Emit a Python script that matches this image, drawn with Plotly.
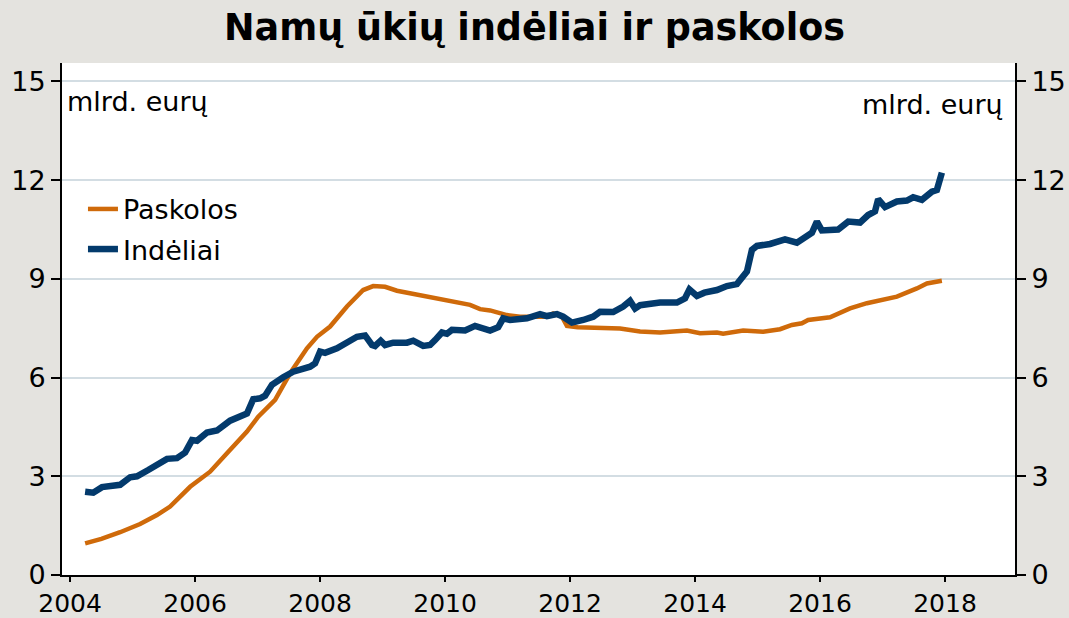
import plotly.graph_objects as go

# Data (decimal years, billions EUR)
paskolos_x = [2004.24, 2004.5, 2004.8, 2005.12, 2005.39, 2005.6, 2005.92, 2006.24, 2006.51, 2006.83,
              2007.01, 2007.17, 2007.28, 2007.52, 2007.79, 2007.95, 2008.16, 2008.43, 2008.69, 2008.85,
              2009.04, 2009.23, 2009.49, 2009.76, 2010.03, 2010.4, 2010.56, 2010.72, 2010.99, 2011.2,
              2011.63, 2011.73, 2011.87, 2011.95, 2012.12, 2012.48, 2012.8, 2013.12, 2013.44, 2013.87,
              2014.08, 2014.35, 2014.45, 2014.77, 2015.09, 2015.36, 2015.55, 2015.71, 2015.81, 2016.16,
              2016.48, 2016.75, 2017.07, 2017.23, 2017.55, 2017.71, 2017.95]
paskolos_y = [0.96, 1.10, 1.30, 1.55, 1.82, 2.08, 2.68, 3.14, 3.70, 4.36,
              4.81, 5.12, 5.32, 6.13, 6.89, 7.24, 7.55, 8.16, 8.66, 8.78,
              8.76, 8.64, 8.54, 8.45, 8.36, 8.21, 8.08, 8.04, 7.90, 7.85,
              7.85, 7.95, 7.85, 7.57, 7.53, 7.50, 7.49, 7.40, 7.37, 7.43,
              7.35, 7.37, 7.33, 7.43, 7.39, 7.47, 7.60, 7.65, 7.75, 7.83,
              8.10, 8.26, 8.41, 8.46, 8.71, 8.86, 8.94]

indeliai_x = [2004.24, 2004.37, 2004.51, 2004.8, 2004.96, 2005.07, 2005.25, 2005.44, 2005.55, 2005.71,
              2005.84, 2005.95, 2006.03, 2006.19, 2006.35, 2006.56, 2006.83, 2006.93, 2007.04, 2007.12,
              2007.23, 2007.41, 2007.57, 2007.84, 2007.92, 2008.0, 2008.08, 2008.27, 2008.43, 2008.59,
              2008.72, 2008.83, 2008.88, 2008.97, 2009.04, 2009.17, 2009.39, 2009.49, 2009.65, 2009.76,
              2009.84, 2009.95, 2010.03, 2010.11, 2010.32, 2010.48, 2010.72, 2010.85, 2010.93, 2011.04,
              2011.31, 2011.52, 2011.63, 2011.79, 2011.89, 2012.03, 2012.21, 2012.37, 2012.48, 2012.69,
              2012.85, 2012.96, 2013.04, 2013.12, 2013.44, 2013.71, 2013.84, 2013.91, 2014.03, 2014.15,
              2014.35, 2014.51, 2014.67, 2014.83, 2014.91, 2014.99, 2015.2, 2015.36, 2015.44, 2015.63,
              2015.79, 2015.87, 2015.95, 2016.03, 2016.29, 2016.45, 2016.64, 2016.77, 2016.88, 2016.93,
              2017.04, 2017.23, 2017.39, 2017.49, 2017.63, 2017.79, 2017.87, 2017.95]
indeliai_y = [2.53, 2.50, 2.67, 2.74, 2.97, 3.00, 3.19, 3.39, 3.53, 3.55,
              3.72, 4.10, 4.08, 4.33, 4.39, 4.69, 4.91, 5.34, 5.37, 5.45,
              5.78, 6.01, 6.18, 6.33, 6.43, 6.79, 6.75, 6.89, 7.09, 7.24,
              7.28, 6.99, 6.96, 7.12, 6.99, 7.06, 7.06, 7.12, 6.96, 6.99,
              7.14, 7.37, 7.33, 7.45, 7.43, 7.57, 7.43, 7.53, 7.80, 7.75,
              7.80, 7.93, 7.87, 7.93, 7.85, 7.67, 7.75, 7.85, 8.00, 7.99,
              8.16, 8.33, 8.10, 8.20, 8.28, 8.28, 8.41, 8.68, 8.48, 8.58,
              8.66, 8.78, 8.84, 9.22, 9.88, 10.00, 10.06, 10.13, 10.20, 10.10,
              10.33, 10.40, 10.74, 10.47, 10.50, 10.74, 10.71, 10.94, 11.05, 11.42,
              11.18, 11.35, 11.38, 11.48, 11.40, 11.65, 11.70, 12.23]

x_ticks = [2004, 2006, 2008, 2010, 2012, 2014, 2016, 2018]
y_ticks = [0, 3, 6, 9, 12, 15]

ORANGE = "#cf6a0a"
BLUE = "#033a6c"
FONT = "DejaVu Sans"
BG = "#e4e3df"
GRID = "#d3dde3"
FS = 27

fig = go.Figure()
fig.add_trace(go.Scatter(x=paskolos_x, y=paskolos_y, mode="lines", name="Paskolos",
                         line=dict(color=ORANGE, width=4.5), legendgroup="a"))
fig.add_trace(go.Scatter(x=indeliai_x, y=indeliai_y, mode="lines", name="Indėliai",
                         line=dict(color=BLUE, width=6.5), legendgroup="b"))
# invisible trace for right axis
fig.add_trace(go.Scatter(x=[x_ticks[0]], y=[y_ticks[0]], yaxis="y2", mode="markers",
                         marker=dict(opacity=0), showlegend=False, hoverinfo="skip"))

yr = [0, 15.56]
axis_common = dict(zeroline=False, showline=True, linecolor="black", linewidth=2,
                   ticks="outside", tickwidth=1.5, tickcolor="black", automargin=False)
fig.update_layout(
    width=1069, height=618,
    paper_bgcolor=BG, plot_bgcolor="white",
    margin=dict(l=62, r=54, t=63, b=43),
    font=dict(family=FONT, size=FS, color="black"),
    title=dict(text="Namų ūkių indėliai ir paskolos", x=0.5, xanchor="center",
               y=0.956, yanchor="middle",
               font=dict(family=FONT, size=36.5, color="black", weight="bold")),
    showlegend=True,
    legend=dict(x=0.022, y=0.675, xanchor="left", yanchor="middle", bgcolor="rgba(0,0,0,0)",
                font=dict(size=FS), traceorder="grouped", tracegroupgap=2, itemwidth=30),
    xaxis=dict(range=[2003.87, 2019.12], tickvals=x_ticks, ticktext=[str(t) for t in x_ticks],
               showgrid=False, ticklen=5, tickfont=dict(size=25), **axis_common),
    yaxis=dict(range=yr, tickvals=y_ticks, showgrid=True, gridcolor=GRID, gridwidth=1.5,
               ticklen=9, tickfont=dict(size=FS), **axis_common),
    yaxis2=dict(range=yr, tickvals=y_ticks, overlaying="y", side="right", showgrid=False,
                ticklen=9, tickfont=dict(size=FS), **axis_common),
)

fig.add_annotation(text="mlrd. eurų", xref="paper", yref="paper", x=0.003, y=0.925,
                   xanchor="left", yanchor="middle", showarrow=False, font=dict(size=FS))
fig.add_annotation(text="mlrd. eurų", xref="paper", yref="paper", x=0.99, y=0.919,
                   xanchor="right", yanchor="middle", showarrow=False, font=dict(size=FS))

fig.write_html("out.html", config={"displayModeBar": False},
               post_script="document.body.style.margin='0';document.body.style.overflow='hidden';")
